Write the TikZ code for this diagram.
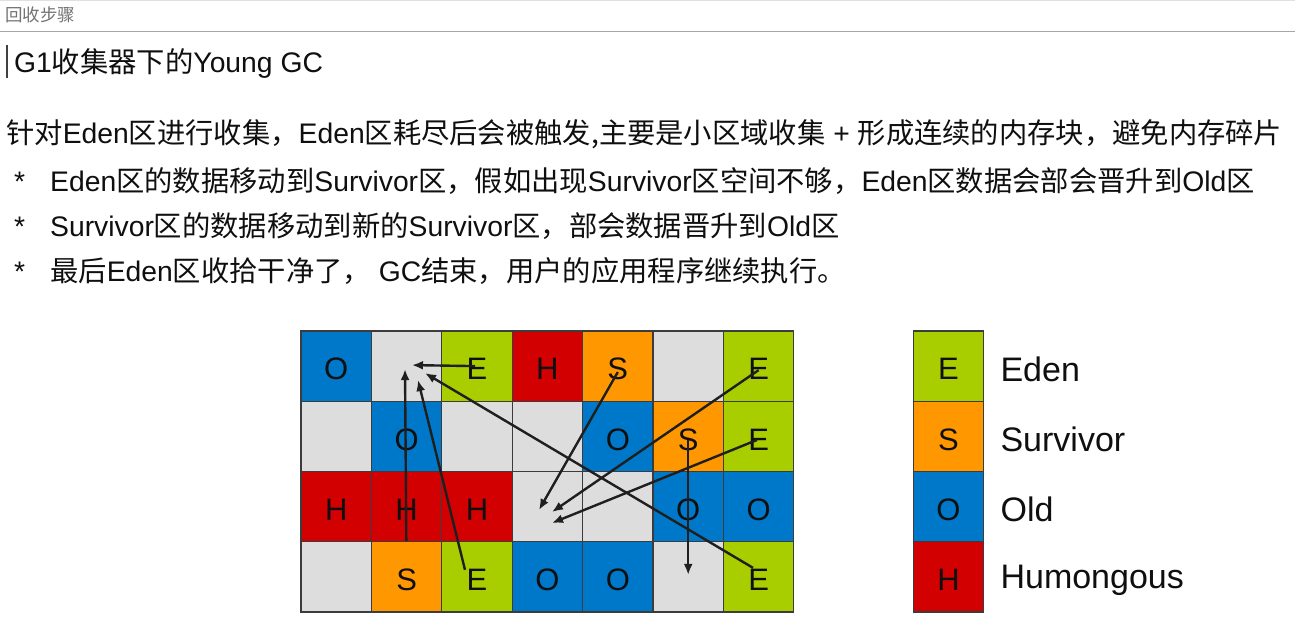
\documentclass[tikz,border=0pt]{standalone}
\usepackage{fontspec}
\setmainfont{Liberation Sans}
\newfontfamily\cjkfont{Noto Sans CJK SC}
\usetikzlibrary{arrows.meta, positioning, calc}
\definecolor{edengreen}{RGB}{168, 206, 0}
\definecolor{survorange}{RGB}{255, 152, 0}
\definecolor{oldblue}{RGB}{0, 120, 202}
\definecolor{humred}{RGB}{210, 0, 0}
\definecolor{freegray}{RGB}{221, 221, 221}
\definecolor{gridline}{RGB}{60, 60, 60}
\definecolor{inktext}{RGB}{15, 15, 15}
\newcommand\zh[1]{{\cjkfont #1}}
\newcommand\lowletter[1]{\raisebox{-3pt}[\height][0pt]{#1}}
\tikzset{
  cell/.style={draw=gridline, line width=1.3pt, minimum width=70.4pt, minimum height=70.25pt, inner sep=0pt, font=\fontsize{31}{31}\selectfont, text=inktext},
  regionE/.style={cell, fill=edengreen},
  regionS/.style={cell, fill=survorange},
  regionO/.style={cell, fill=oldblue},
  regionH/.style={cell, fill=humred},
  regionN/.style={cell, fill=freegray},
  bodytext/.style={anchor=base west, inner sep=0pt, text=inktext, font=\fontsize{28.3}{34}\selectfont},
  keytext/.style={anchor=west, inner sep=0pt, text=inktext, font=\fontsize{34}{40}\selectfont},
  move/.style={-{Latex[length=11pt,width=9pt]}, line width=2.4pt, draw=black!88}
}

\begin{document}
\begin{tikzpicture}[x=1pt, y=-1pt]
  \useasboundingbox[fill=white] (0,0) rectangle (1295,636);

  % page header
  \draw[black!12] (0,0.7) -- (1295,0.7);
  \node[anchor=base west, inner sep=0pt, text=black!55, font=\cjkfont\fontsize{17.5}{20}\selectfont] (header) at (5,21.6) {回收步骤};
  \draw[black!35, line width=1pt] (0,32) -- (1295,32);
  \draw[black!75, line width=1.6pt] (7,45) -- (7,78);
  \node[bodytext] (title) at (14,72.6) {G1\zh{收集器下的}Young GC};

  % description
  \node[bodytext] (intro) at (6,143.6) {\zh{针对}Eden\zh{区进行收集，}Eden\zh{区耗尽后会被触发,主要是小区域收集} + \zh{形成连续的内存块，避免内存碎片}};
  \node[bodytext] (star1) at (14,191.6) {*};
  \node[bodytext] (step1) at (50,191.6) {Eden\zh{区的数据移动到}Survivor\zh{区，假如出现}Survivor\zh{区空间不够，}Eden\zh{区数据会部会晋升到}Old\zh{区}};
  \node[bodytext] (star2) at (14,236.6) {*};
  \node[bodytext] (step2) at (50,236.6) {Survivor\zh{区的数据移动到新的}Survivor\zh{区，部会数据晋升到}Old\zh{区}};
  \node[bodytext] (star3) at (14,281.6) {*};
  \node[bodytext] (step3) at (50,281.6) {\zh{最后}Eden\zh{区收拾干净了，} GC\zh{结束，用户的应用程序继续执行。}};

  % heap regions
  \foreach \row [count=\r from 0] in {{O,N,E,H,S,N,E},{N,O,N,N,O,S,E},{H,H,H,N,N,O,O},{N,S,E,O,O,N,E}} {
    \foreach \t [count=\c from 0] in \row {
      \node[region\t] (c\r\c) at ({336.2+70.4*\c},{366.1+70.25*\r}) {\if N\t\else\lowletter{\t}\fi};
    }
  }

  % evacuation moves
  \draw[move] ($(c02)+(-2,0)$) -- ($(c01)+(5.4,-1)$);
  \draw[move] (c31) -- ($(c01)+(-1.6,3)$);
  \draw[move] ($(c32)+(-12,-7)$) -- ($(c01)+(11.4,14)$);
  \draw[move] ($(c36)+(-5.6,-9)$) -- ($(c01)+(18.4,7)$);
  \draw[move] ($(c04)+(0,6)$) -- ($(c23)+(-8.4,3.4)$);
  \draw[move] ($(c06)+(0,4)$) -- ($(c23)+(4.6,5.4)$);
  \draw[move] ($(c16)+(-1.6,3.6)$) -- ($(c23)+(4.6,16.4)$);
  \draw[move] ($(c15)+(0,3.6)$) -- ($(c35)+(0,-2)$);

  % legend
  \node[regionE] (keyE) at (948.5,366.1) {\lowletter{E}};
  \node[regionS] (keyS) at (948.5,436.4) {\lowletter{S}};
  \node[regionO] (keyO) at (948.5,506.6) {\lowletter{O}};
  \node[regionH] (keyH) at (948.5,576.9) {\lowletter{H}};
  \node[keytext, right=16pt of keyE, yshift=-3pt] (keyEtext) {Eden};
  \node[keytext, right=16pt of keyS, yshift=-3pt] (keyStext) {Survivor};
  \node[keytext, right=16pt of keyO, yshift=-3pt] (keyOtext) {Old};
  \node[keytext, right=16pt of keyH, yshift=-3pt] (keyHtext) {Humongous};
\end{tikzpicture}
\end{document}
